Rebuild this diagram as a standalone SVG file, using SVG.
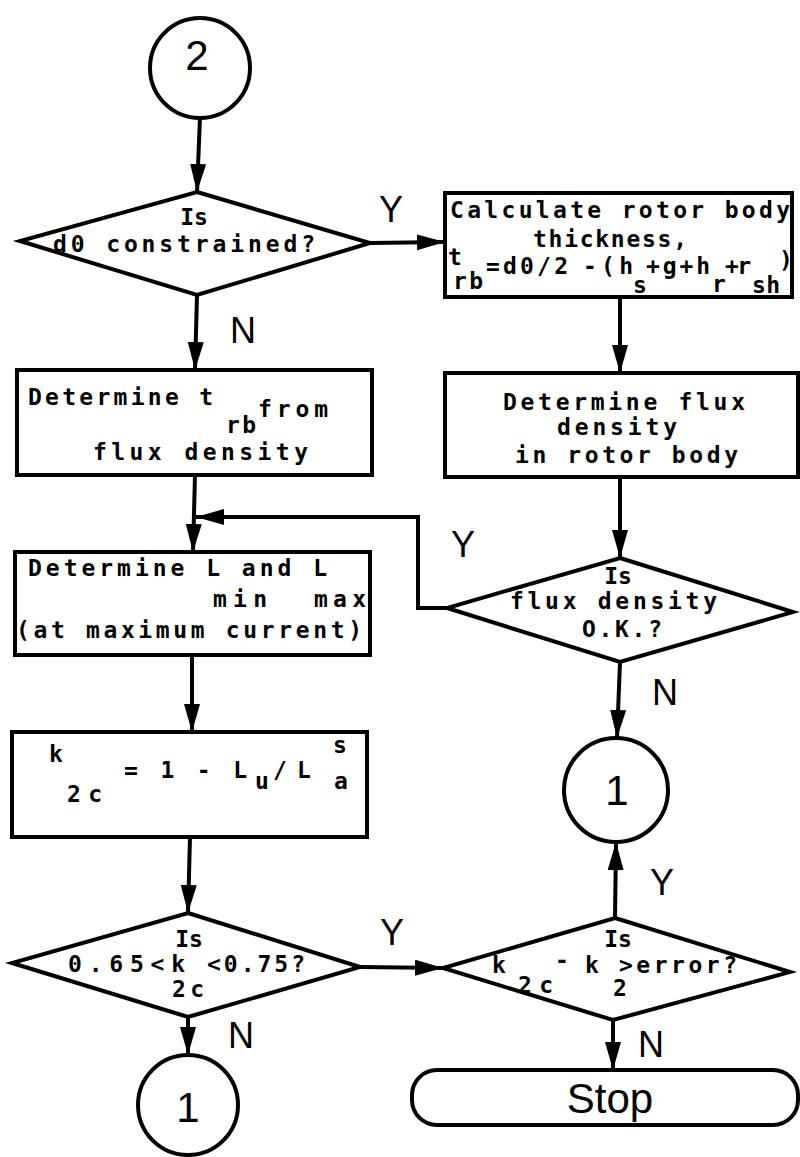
<svg xmlns="http://www.w3.org/2000/svg" width="800" height="1157" viewBox="0 0 800 1157">
<style>
.shape{fill:#fff;stroke:#000;stroke-width:4;stroke-linejoin:miter}
.conn{fill:none;stroke:#000;stroke-width:4}
.t{font-family:"DejaVu Sans Mono","Liberation Mono",monospace;font-weight:bold;font-size:23px;fill:#000}
.lab{font-family:"Liberation Sans",Arial,sans-serif;font-size:36px;fill:#000}
.num{font-family:"Liberation Sans",Arial,sans-serif;font-size:42px;fill:#000;text-anchor:middle}
</style>
<defs>
<marker id="ah" markerUnits="userSpaceOnUse" markerWidth="30" markerHeight="18" refX="28" refY="8" orient="auto">
<path d="M0,0 L28,8 L0,16 Z" fill="#000"/>
</marker>
</defs>
<rect width="800" height="1157" fill="#fff"/>

<g id="connectors">
<line class="conn" x1="200" y1="117" x2="197" y2="192" marker-end="url(#ah)"/>
<line class="conn" x1="370" y1="243" x2="445" y2="242" marker-end="url(#ah)"/>
<line class="conn" x1="197" y1="295" x2="195" y2="370" marker-end="url(#ah)"/>
<line class="conn" x1="620" y1="297" x2="620" y2="373" marker-end="url(#ah)"/>
<line class="conn" x1="195" y1="475" x2="193" y2="552" marker-end="url(#ah)"/>
<polyline class="conn" points="447,608 418,608 418,517 196,517" marker-end="url(#ah)"/>
<line class="conn" x1="620" y1="477" x2="620" y2="558" marker-end="url(#ah)"/>
<line class="conn" x1="620" y1="662" x2="617" y2="738" marker-end="url(#ah)"/>
<line class="conn" x1="192" y1="655" x2="192" y2="732" marker-end="url(#ah)"/>
<line class="conn" x1="190" y1="837" x2="188" y2="913" marker-end="url(#ah)"/>
<line class="conn" x1="360" y1="967" x2="443" y2="968" marker-end="url(#ah)"/>
<line class="conn" x1="615" y1="918" x2="616" y2="842" marker-end="url(#ah)"/>
<line class="conn" x1="613" y1="1020" x2="613" y2="1070" marker-end="url(#ah)"/>
<line class="conn" x1="188" y1="1017" x2="188" y2="1055" marker-end="url(#ah)"/>
</g>

<g id="edge-labels">
<text class="lab" x="391" y="222" text-anchor="middle">Y</text>
<text class="lab" x="230" y="343">N</text>
<text class="lab" x="463" y="557" text-anchor="middle">Y</text>
<text class="lab" x="652" y="705">N</text>
<text class="lab" x="662" y="895" text-anchor="middle">Y</text>
<text class="lab" x="392" y="945" text-anchor="middle">Y</text>
<text class="lab" x="638" y="1057">N</text>
<text class="lab" x="228" y="1048">N</text>
</g>

<g id="n-start2">
<circle class="shape" cx="200" cy="68" r="50"/>
<text class="num" x="197" y="70">2</text>
</g>

<g id="n-d0">
<polygon class="shape" points="197,192 370,243 197,295 20,241"/>
<text class="t" x="194" y="225" text-anchor="middle">Is</text>
<text class="t" x="53" y="252" textLength="262" lengthAdjust="spacing">d0 constrained?</text>
</g>

<g id="n-calc">
<rect class="shape" x="445" y="193" width="347" height="104"/>
<text class="t" x="450" y="218" textLength="340" lengthAdjust="spacing">Calculate rotor body</text>
<text class="t" x="533" y="247" textLength="154" lengthAdjust="spacing">thickness,</text>
<text class="t" x="448" y="265">t</text>
<text class="t" x="453" y="289" textLength="30" lengthAdjust="spacing">rb</text>
<text class="t" x="486" y="274" textLength="82" lengthAdjust="spacing">=d0/2</text>
<text class="t" x="583" y="274" textLength="50" lengthAdjust="spacing">-(h</text>
<text class="t" x="633" y="293">s</text>
<text class="t" x="646" y="274" textLength="64" lengthAdjust="spacing">+g+h</text>
<text class="t" x="712" y="292">r</text>
<text class="t" x="725" y="274" textLength="26" lengthAdjust="spacing">+r</text>
<text class="t" x="752" y="293" textLength="28" lengthAdjust="spacing">sh</text>
<text class="t" x="779" y="268">)</text>
</g>

<g id="n-trb">
<rect class="shape" x="17" y="370" width="355" height="105"/>
<text class="t" x="28" y="405" textLength="185" lengthAdjust="spacing">Determine t</text>
<text class="t" x="226" y="433" textLength="30" lengthAdjust="spacing">rb</text>
<text class="t" x="258" y="417" textLength="70" lengthAdjust="spacing">from</text>
<text class="t" x="93" y="460" textLength="215" lengthAdjust="spacing">flux density</text>
</g>

<g id="n-fluxcalc">
<rect class="shape" x="445" y="373" width="353" height="104"/>
<text class="t" x="503" y="410" textLength="242" lengthAdjust="spacing">Determine flux</text>
<text class="t" x="557" y="435" textLength="120" lengthAdjust="spacing">density</text>
<text class="t" x="515" y="463" textLength="223" lengthAdjust="spacing">in rotor body</text>
</g>

<g id="n-lminmax">
<rect class="shape" x="15" y="552" width="355" height="103"/>
<text class="t" x="28" y="576" textLength="299" lengthAdjust="spacing">Determine L and L</text>
<text class="t" x="213" y="607" textLength="54" lengthAdjust="spacing">min</text>
<text class="t" x="314" y="607" textLength="52" lengthAdjust="spacing">max</text>
<text class="t" x="16" y="638" textLength="346" lengthAdjust="spacing">(at maximum current)</text>
</g>

<g id="n-fluxok">
<polygon class="shape" points="620,558 793,612 620,662 447,608"/>
<text class="t" x="618" y="584" text-anchor="middle">Is</text>
<text class="t" x="510" y="609" textLength="207" lengthAdjust="spacing">flux density</text>
<text class="t" x="582" y="637" textLength="80" lengthAdjust="spacing">O.K.?</text>
</g>

<g id="n-conn1-right">
<circle class="shape" cx="616" cy="790" r="52"/>
<text class="num" x="617" y="805">1</text>
</g>

<g id="n-k2c">
<rect class="shape" x="12" y="732" width="355" height="105"/>
<text class="t" x="49" y="762">k</text>
<text class="t" x="67" y="802" textLength="35" lengthAdjust="spacing">2c</text>
<text class="t" x="124" y="778" textLength="123" lengthAdjust="spacing">= 1 - L</text>
<text class="t" x="255" y="789">u</text>
<text class="t" x="273" y="778">/</text>
<text class="t" x="297" y="778">L</text>
<text class="t" x="333" y="753">s</text>
<text class="t" x="334" y="789">a</text>
</g>

<g id="n-range">
<polygon class="shape" points="188,913 360,967 188,1017 12,963"/>
<text class="t" x="189" y="947" text-anchor="middle">Is</text>
<text class="t" x="68" y="972" textLength="117" lengthAdjust="spacing">0.65&lt;k</text>
<text class="t" x="172" y="997" textLength="32" lengthAdjust="spacing">2c</text>
<text class="t" x="207" y="972" textLength="98" lengthAdjust="spacing">&lt;0.75?</text>
</g>

<g id="n-error">
<polygon class="shape" points="615,918 790,972 613,1020 443,968"/>
<text class="t" x="618" y="947" text-anchor="middle">Is</text>
<text class="t" x="492" y="973">k</text>
<text class="t" x="518" y="993" textLength="35" lengthAdjust="spacing">2c</text>
<text class="t" x="555" y="968">-</text>
<text class="t" x="585" y="973">k</text>
<text class="t" x="613" y="996">2</text>
<text class="t" x="619" y="973" textLength="118" lengthAdjust="spacing">&gt;error?</text>
</g>

<g id="n-conn1-left">
<circle class="shape" cx="188" cy="1105" r="50"/>
<text class="num" x="188" y="1122">1</text>
</g>

<g id="n-stop">
<rect class="shape" x="412" y="1070" width="386" height="55" rx="25" ry="25"/>
<text x="610" y="1113" text-anchor="middle" style="font-family:'Liberation Sans',Arial,sans-serif;font-size:42px;fill:#000">Stop</text>
</g>
</svg>
